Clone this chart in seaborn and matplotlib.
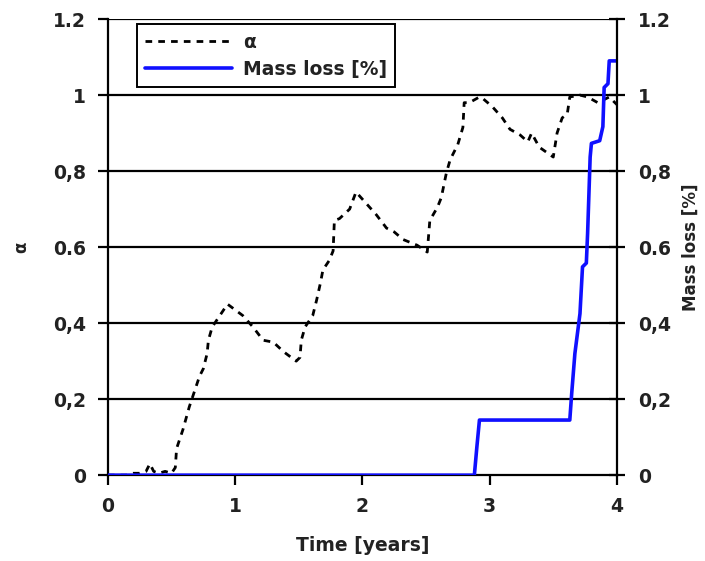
import numpy as np
import pandas as pd
import seaborn as sns
from matplotlib import pyplot as plt

# alpha curve (time in years)
t_alpha = [0.0, 0.15, 0.2, 0.25, 0.3, 0.33, 0.36, 0.4, 0.45, 0.5, 0.53, 0.54, 0.59, 0.64,
           0.67, 0.72, 0.75, 0.78, 0.79, 0.82, 0.9, 0.94, 1.0, 1.06, 1.14, 1.22, 1.3,
           1.38, 1.48, 1.51, 1.52, 1.55, 1.61, 1.64, 1.67, 1.69, 1.74, 1.77, 1.78,
           1.82, 1.9, 1.95, 2.03, 2.11, 2.19, 2.25, 2.32, 2.43, 2.51, 2.53, 2.59,
           2.62, 2.66, 2.69, 2.75, 2.79, 2.8, 2.84, 2.92, 2.95, 3.02, 3.1, 3.16,
           3.24, 3.3, 3.33, 3.39, 3.5, 3.53, 3.57, 3.61, 3.63, 3.71, 3.77, 3.85,
           3.94, 4.0]
alpha = [0.0, 0.0, 0.005, 0.005, 0.01, 0.03, 0.01, 0.005, 0.01, 0.005, 0.02, 0.07, 0.12,
         0.18, 0.21, 0.26, 0.28, 0.32, 0.355, 0.39, 0.43, 0.45, 0.435, 0.42, 0.39,
         0.355, 0.35, 0.325, 0.3, 0.31, 0.355, 0.39, 0.42, 0.46, 0.505, 0.54, 0.565,
         0.59, 0.67, 0.675, 0.7, 0.745, 0.715, 0.685, 0.65, 0.64, 0.62, 0.605, 0.587,
         0.67, 0.705, 0.73, 0.795, 0.83, 0.87, 0.915, 0.98, 0.98, 0.995, 0.99, 0.97,
         0.94, 0.91, 0.895, 0.877, 0.9, 0.863, 0.837, 0.9, 0.94, 0.95, 0.995, 1.0,
         0.995, 0.98, 0.995, 0.975]

# mass loss [%], stepwise
t_mass = [0.0, 2.88, 2.9, 2.92, 3.63, 3.645, 3.67, 3.71, 3.73, 3.76, 3.77, 3.79, 3.8,
          3.865, 3.89, 3.9, 3.93, 3.94, 4.0]
mass_loss = [0.0, 0.0, 0.075, 0.145, 0.145, 0.215, 0.32, 0.425, 0.548, 0.558, 0.636,
             0.837, 0.873, 0.88, 0.917, 1.02, 1.03, 1.09, 1.09]

y_ticks = [0, 0.2, 0.4, 0.6, 0.8, 1.0, 1.2]
y_ticklabels = ["0", "0,2", "0,4", "0.6", "0,8", "1", "1.2"]
x_ticks = [0, 1, 2, 3, 4]

sns.set_style("white")
plt.rcParams['font.family'] = ['DejaVu Sans']

df_a = pd.DataFrame({'t': t_alpha, 'a': alpha})
df_m = pd.DataFrame({'t': t_mass, 'm': mass_loss})

fig = plt.figure(figsize=(7.05, 5.61), dpi=100)
ax = fig.add_axes([0.153, 0.153, 0.722, 0.813])
ax2 = ax.twinx()

for y in y_ticks[1:]:
    ax.axhline(y, color='black', lw=1.6, zorder=0)

sns.lineplot(data=df_a, x='t', y='a', ax=ax, estimator=None, sort=False,
             color='black', lw=2, label='α')
ax.lines[-1].set_dashes([2.4, 2.2])
sns.lineplot(data=df_m, x='t', y='m', ax=ax2, estimator=None, sort=False,
             color='#1010ff', lw=2.6, label='Mass loss [%]')

for a in (ax, ax2):
    a.set_xlim(0, 4)
    a.set_ylim(0, 1.2)
    a.set_yticks(y_ticks)
    a.set_yticklabels(y_ticklabels, fontsize=13.5, fontweight='bold', color='#222222')
    for s in a.spines.values():
        s.set_visible(False)

ax.spines['left'].set_visible(True)
ax.spines['bottom'].set_visible(True)
ax2.spines['right'].set_visible(True)
for s in (ax.spines['left'], ax.spines['bottom'], ax2.spines['right']):
    s.set_color('black')
    s.set_linewidth(1.6)

ax.set_xticks(x_ticks)
ax.set_xticklabels([str(x) for x in x_ticks], fontsize=13.5, fontweight='bold', color='#222222')
ax.tick_params(axis='x', direction='out', length=7, width=1.6, color='black', bottom=True, pad=9)
ax.tick_params(axis='y', direction='out', length=7, width=1.6, color='black', left=True, pad=9)
ax2.tick_params(axis='y', direction='inout', length=12, width=1.6, color='black', right=True, pad=9)

ax.set_xlabel('Time [years]', fontsize=13.5, fontweight='bold', labelpad=14, color='#222222')
ax.set_ylabel('α', fontsize=12, fontweight='bold', labelpad=16, color='#222222')
ax2.set_ylabel('Mass loss [%]', fontsize=12, fontweight='bold', labelpad=8, color='#222222')

ax2.get_legend().remove()
h1, l1 = ax.get_legend_handles_labels()
h2, l2 = ax2.get_legend_handles_labels()
ax.get_legend().remove()
leg = ax2.legend(h1 + h2, l1 + l2, loc='upper left', bbox_to_anchor=(0.057, 0.989),
                 borderaxespad=0, fancybox=False, framealpha=1, edgecolor='black',
                 handlelength=4.6, prop={'weight': 'bold', 'size': 13.5}, borderpad=0.45,
                 labelspacing=0.45, handletextpad=0.6)
leg.get_frame().set_linewidth(1.4)
for txt in leg.get_texts():
    txt.set_color('#222222')

plt.savefig('out.png', dpi=100)
